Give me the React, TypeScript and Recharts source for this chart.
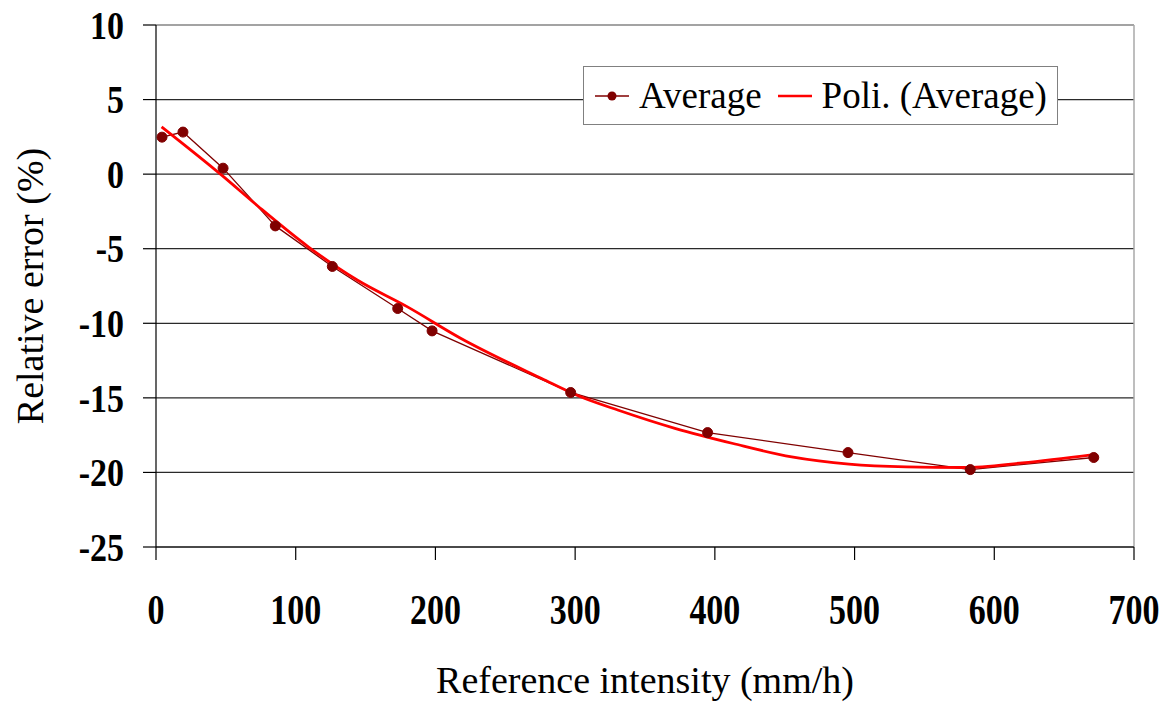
import React from "react";
import {
  CartesianGrid,
  Legend,
  Line,
  LineChart,
  ReferenceLine,
  XAxis,
  YAxis,
} from "recharts";

// measured averages (reference intensity in mm/h, relative error in %)
const intensity = [4.3, 19.3, 48, 85.4, 126.2, 173, 197.6, 296.8, 394.8, 495.3, 582.8, 671.2];
const relError = [2.48, 2.82, 0.4, -3.47, -6.19, -9.01, -10.51, -14.64, -17.33, -18.67, -19.81, -19.0];

// polynomial trend line
const trendX = [4, 47, 73, 109, 144, 180, 218, 276, 303, 331, 372, 413, 455, 496, 537, 578, 620, 671];
const trendY = [3.17, -0.07, -2.15, -4.87, -7.1, -8.9, -11.0, -13.7, -14.89, -15.83, -17.06, -18.06, -18.96, -19.45, -19.63, -19.67, -19.36, -18.8];

const xTicks = [0, 100, 200, 300, 400, 500, 600, 700];
const yTicks = [-25, -20, -15, -10, -5, 0, 5, 10];

const avgData = intensity.map((x, i) => ({ x, y: relError[i] }));
const trendData = trendX.map((x, i) => ({ x, y: trendY[i] }));

const FONT = "Liberation Serif";
const DARK_RED = "#800000";

const XTick = ({ x, y, payload }: any) => (
  <g transform={`translate(${x},${y}) scale(1,1.22)`}>
    <text textAnchor="middle" style={{ fontFamily: FONT }} fontWeight="bold" fontSize={34} fill="#000">
      {payload.value}
    </text>
  </g>
);

const YTick = ({ x, y, payload }: any) => (
  <g transform={`translate(${x},${y}) scale(1,1.18)`}>
    <text textAnchor="end" dy="0.34em" style={{ fontFamily: FONT }} fontWeight="bold" fontSize={34} fill="#000">
      {payload.value}
    </text>
  </g>
);

const LegendBox = () => (
  <div
    style={{
      display: "flex",
      alignItems: "center",
      boxSizing: "border-box",
      height: 59,
      border: "1.5px solid #808080",
      background: "#fff",
      padding: "0 10px 0 11px",
      fontFamily: FONT,
      fontSize: 37,
      color: "#000",
      whiteSpace: "nowrap",
    }}
  >
    <svg width={34} height={20}>
      <line x1={0} y1={10} x2={34} y2={10} stroke={DARK_RED} strokeWidth={1.5} />
      <circle cx={17} cy={10} r={4.5} fill={DARK_RED} />
    </svg>
    <span style={{ marginLeft: 10 }}>Average</span>
    <svg width={34} height={20} style={{ marginLeft: 16 }}>
      <line x1={0} y1={10} x2={34} y2={10} stroke="#FF0000" strokeWidth={2.5} />
    </svg>
    <span style={{ marginLeft: 10 }}>Poli. (Average)</span>
  </div>
);

export default function App() {
  return (
    <div
      style={{
        position: "absolute",
        left: 0,
        top: 0,
        width: 1170,
        height: 708,
        background: "#fff",
        fontFamily: FONT,
      }}
    >
      <LineChart width={1170} height={708} margin={{ top: 25, right: 36, bottom: 61, left: 31 }}>
        <CartesianGrid vertical={false} stroke="#2a2a2a" strokeWidth={1.2} />
        <ReferenceLine y={10} stroke="#a8a8a8" strokeWidth={1.5} />
        <ReferenceLine x={700} stroke="#a8a8a8" strokeWidth={1.5} />
        <XAxis
          type="number"
          dataKey="x"
          domain={[0, 700]}
          ticks={xTicks}
          height={100}
          tickSize={13}
          tickMargin={64}
          tick={<XTick />}
          stroke="#000"
          strokeWidth={1.2}
          label={{
            content: ({ viewBox }: any) => (
              <text
                x={viewBox.x + viewBox.width / 2}
                y={viewBox.y + 146}
                textAnchor="middle"
                style={{ fontFamily: FONT }}
                fontSize={38}
                fill="#000"
              >
                Reference intensity (mm/h)
              </text>
            ),
          }}
        />
        <YAxis
          type="number"
          dataKey="y"
          domain={[-25, 10]}
          ticks={yTicks}
          width={125}
          tickSize={13}
          tickMargin={19}
          tick={<YTick />}
          stroke="#000"
          strokeWidth={1.2}
          label={{
            content: ({ viewBox }: any) => {
              const cy = viewBox.y + viewBox.height / 2;
              return (
                <text
                  x={43}
                  y={cy}
                  transform={`rotate(-90, 43, ${cy})`}
                  textAnchor="middle"
                  style={{ fontFamily: FONT }}
                  fontSize={38}
                  fill="#000"
                >
                  Relative error (%)
                </text>
              );
            },
          }}
        />
        <Legend
          layout="vertical"
          align="center"
          verticalAlign="middle"
          content={<LegendBox />}
          wrapperStyle={{ left: 583, top: 66, width: "auto", height: "auto" }}
        />
        <Line
          data={avgData}
          dataKey="y"
          type="linear"
          stroke={DARK_RED}
          strokeWidth={1.3}
          dot={{ r: 5, fill: DARK_RED, stroke: DARK_RED, strokeWidth: 1 }}
          isAnimationActive={false}
        />
        <Line
          data={trendData}
          dataKey="y"
          type="monotone"
          stroke="#FF0000"
          strokeWidth={2.8}
          dot={false}
          isAnimationActive={false}
        />
      </LineChart>
    </div>
  );
}
